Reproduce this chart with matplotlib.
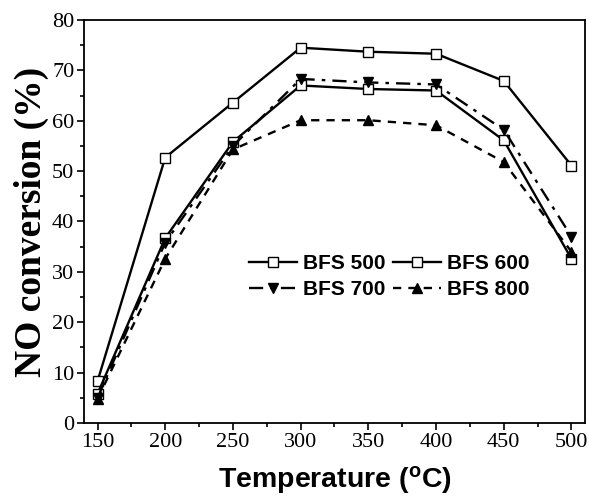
import matplotlib.pyplot as plt

# temperature (C) and NO conversion (%)
temperature = [150, 200, 250, 300, 350, 400, 450, 500]
bfs500 = [8.3, 52.7, 63.6, 74.5, 73.7, 73.3, 67.9, 51.1]
bfs600 = [5.8, 36.7, 55.8, 67.0, 66.3, 66.0, 56.1, 32.6]
bfs700 = [5.0, 35.8, 55.0, 68.3, 67.6, 67.2, 58.2, 37.0]
bfs800 = [4.8, 32.6, 54.3, 60.1, 60.1, 59.1, 51.8, 34.0]

fig = plt.figure(figsize=(5.89, 4.97), dpi=100)
ax = fig.add_axes([0.1426, 0.1489, 0.8506, 0.8109])

l500, = ax.plot(temperature, bfs500, '-s', color='black', lw=1.7, ms=6.5,
                mfc='white', mec='black', mew=1.0, label='BFS 500')
l600, = ax.plot(temperature, bfs600, '-s', color='black', lw=1.7, ms=6.5,
                mfc='white', mec='black', mew=1.0, label='BFS 600')
l700, = ax.plot(temperature, bfs700, '-.v', color='black', lw=1.7, ms=6.5,
                dashes=(6, 3, 1.5, 3), label='BFS 700')
l800, = ax.plot(temperature, bfs800, '--^', color='black', lw=1.7, ms=6.5,
                dashes=(3.5, 3), label='BFS 800')

ax.set_xlim(140, 510)
ax.set_ylim(0, 80)
ax.set_xticks(temperature)
ax.set_xticks(range(175, 500, 50), minor=True)
ax.set_yticks(range(0, 81, 10))
ax.set_yticks(range(5, 80, 10), minor=True)

serif = ['Liberation Serif', 'DejaVu Serif']
sans = ['Liberation Sans', 'DejaVu Sans']
for lab in ax.get_xticklabels() + ax.get_yticklabels():
    lab.set_family(serif)
    lab.set_fontsize(16)

ax.tick_params(which='major', direction='out', length=5, width=1.2, pad=2)
ax.tick_params(which='minor', direction='out', length=3, width=1.2)
for sp in ax.spines.values():
    sp.set_linewidth(1.3)

ax.set_xlabel('Temperature ($\\mathregular{^o}$C)', family=sans,
              fontsize=20.5, fontweight='bold', labelpad=9)
ax.set_ylabel('NO conversion (%)', family=serif, fontsize=27,
              fontweight='bold', labelpad=2)

# legend rows: 500/600 then 700/800 (matplotlib fills column-wise)
ax.legend([l500, l700, l600, l800], ['BFS 500', 'BFS 700', 'BFS 600', 'BFS 800'],
          loc='upper left', bbox_to_anchor=(0.30, 0.455), ncol=2,
          frameon=False, handlelength=2.3, handletextpad=0.3,
          columnspacing=0.35, labelspacing=0.35, borderpad=0.2,
          prop={'family': sans, 'weight': 'bold', 'size': 15})

fig.savefig('out.png', dpi=100)
